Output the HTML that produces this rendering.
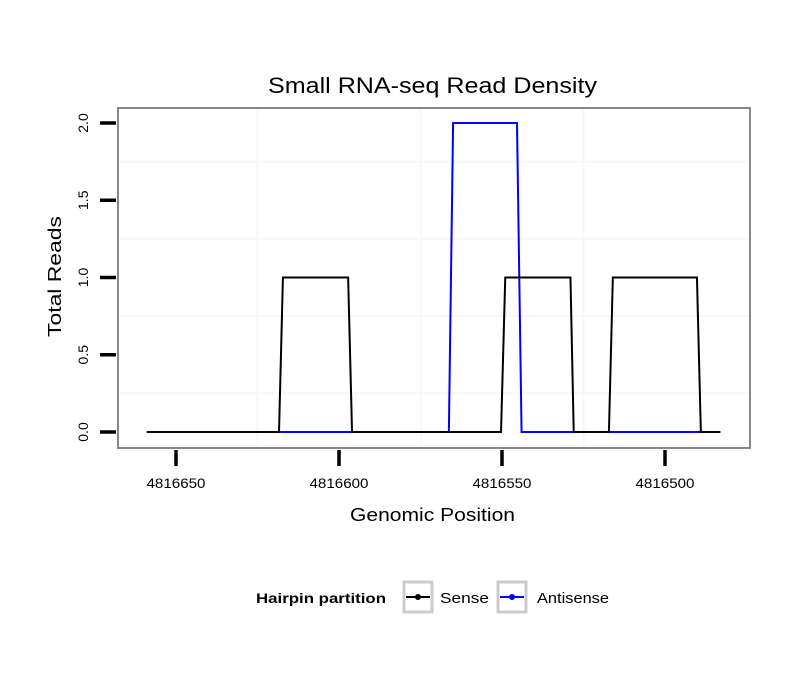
<!DOCTYPE html>
<html><head><meta charset="utf-8"><style>
body{margin:0;background:#fff;}
svg text{font-family:"Liberation Sans",sans-serif;}
</style></head><body>
<svg id="chart" width="810" height="690" xmlns="http://www.w3.org/2000/svg">
<text x="268" y="93" font-size="22" textLength="329" lengthAdjust="spacingAndGlyphs">Small RNA-seq Read Density</text>
<g id="grid"></g>
<g id="lines"></g>
<rect x="118" y="108" width="632" height="340" fill="none" stroke="#888" stroke-width="2"/>
<g id="axes"></g>
<text x="350" y="521" font-size="18" textLength="165" lengthAdjust="spacingAndGlyphs">Genomic Position</text>
<text transform="translate(61,337) rotate(-90)" font-size="18" textLength="121" lengthAdjust="spacingAndGlyphs">Total Reads</text>
<g>
<text x="256" y="603" font-size="14" font-weight="bold" textLength="130" lengthAdjust="spacingAndGlyphs">Hairpin partition</text>
<g>
<rect x="404" y="582" width="28" height="30" fill="none" stroke="#ccc" stroke-width="3"/>
<line x1="406" y1="597" x2="430" y2="597" stroke="#000" stroke-width="2"/><circle cx="418" cy="597" r="3" fill="#000"/>
<text x="440" y="603" font-size="15" textLength="49" lengthAdjust="spacingAndGlyphs">Sense</text></g>
<g>
<rect x="498" y="582" width="28" height="30" fill="none" stroke="#ccc" stroke-width="3"/>
<line x1="500" y1="597" x2="524" y2="597" stroke="#00f" stroke-width="2"/><circle cx="512" cy="597" r="3" fill="#00f"/>
<text x="537" y="603" font-size="15" textLength="72" lengthAdjust="spacingAndGlyphs">Antisense</text></g>
</g>
</svg>
<script>
const xTicks=[4816650,4816600,4816550,4816500];
const yTicks=[0,0.5,1.0,1.5,2.0];
const yTickLabels=["0.0","0.5","1.0","1.5","2.0"];
const senseX=[4816659,4816618.4,4816617.2,4816597.2,4816596,4816550.3,4816549,4816529,4816528,4816517.2,4816516,4816490.2,4816489,4816483];
const senseY=[0,0,1,1,0,0,1,1,0,0,1,1,0,0];
const antiX=[4816618.4,4816566.3,4816565,4816545.4,4816544,4816489];
const antiY=[0,0,2,2,0,0];
const NS="http://www.w3.org/2000/svg";
const xs=v=>176+(4816650-v)*3.26;
const ys=v=>432-v*154.5;
function mk(t,a,p){const e=document.createElementNS(NS,t);for(const k in a)e.setAttribute(k,a[k]);p.appendChild(e);return e;}
const grid=document.getElementById('grid'),axes=document.getElementById('axes'),lines=document.getElementById('lines');
for(let i=0;i<yTicks.length-1;i++){const g=mk('line',{x1:119,x2:749,y1:ys((yTicks[i]+yTicks[i+1])/2),y2:ys((yTicks[i]+yTicks[i+1])/2),stroke:'#f7f7f7','stroke-width':2},grid);

}
for(let i=0;i<xTicks.length-1;i++){const g=mk('line',{y1:109,y2:447,x1:xs((xTicks[i]+xTicks[i+1])/2),x2:xs((xTicks[i]+xTicks[i+1])/2),stroke:'#f7f7f7','stroke-width':2},grid);

}
yTicks.forEach((v,i)=>{const t=mk('line',{x1:100,x2:116,y1:ys(v),y2:ys(v),stroke:'#000','stroke-width':3.5},axes);


const l=mk('text',{transform:`translate(88,${ys(v)}) rotate(-90)`,'font-size':14,'text-anchor':'middle',fill:'#000'},axes);l.textContent=yTickLabels[i];

});
xTicks.forEach(v=>{const t=mk('line',{x1:xs(v),x2:xs(v),y1:450,y2:466,stroke:'#000','stroke-width':3.5},axes);


const l=mk('text',{x:xs(v),y:488,'font-size':14,'text-anchor':'middle',textLength:59,lengthAdjust:'spacingAndGlyphs'},axes);l.textContent=v;

});
function path(X,Y,c,name){const p=mk('polyline',{points:X.map((x,i)=>xs(x)+','+ys(Y[i])).join(' '),fill:'none',stroke:c,'stroke-width':2},lines);

}
path(antiX,antiY,'#00f','antisense-line');
path(senseX,senseY,'#000','sense-line');
</script>
</body></html>
